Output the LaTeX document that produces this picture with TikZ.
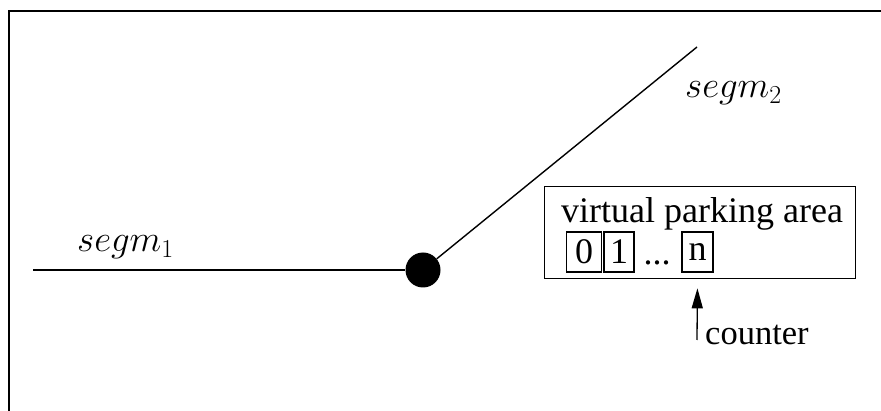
\documentclass[tikz,border=0pt]{standalone}
\usepackage{fix-cm}
\usepackage[no-math]{fontspec}
\setmainfont{Liberation Serif}
\usetikzlibrary{arrows.meta}
\tikzset{
  line/.style={line width=1.4pt},
  lbl/.style={inner sep=0pt, font=\fontsize{36}{42}\selectfont},
  mlbl/.style={inner sep=0pt, font=\fontsize{37}{44}\selectfont},
  slot/.style={draw, line width=1.1pt, inner sep=0pt, minimum height=40pt, font=\fontsize{36}{42}\selectfont},
  ptr/.style={line width=1.3pt, -{Triangle[length=20pt,width=11pt]}}
}
\begin{document}
\begin{tikzpicture}[x=1pt,y=-1pt]
\useasboundingbox (0,0) rectangle (881,411);
\begin{scope}
\clip (0,0) rectangle (881,411);
\draw[line width=1.6pt] (9,430) -- (9,11) -- (900,11);
\end{scope}
% junction and segments
\node[circle, fill=black, minimum size=35pt, inner sep=0pt] (dot) at (423,270) {};
\coordinate (s1end) at (33,270);
\coordinate (s2end) at (697,47);
\draw[line] (s1end) -- (dot);
\draw[line] (dot) -- (s2end);
\node[mlbl, anchor=base west] (seg1) at (77,252) {$segm_1$};
\node[mlbl, anchor=base west] (seg2) at (685,98) {$segm_2$};
% parking area
\node[draw, line width=1.3pt, minimum width=311pt, minimum height=92pt, anchor=north west, inner sep=0pt] (area) at (544,186) {};
\node[lbl, anchor=base west] (title) at (561,223) {virtual parking area};
\node[slot, minimum width=35pt] (b0) at (584,252) {0};
\node[slot, minimum width=30pt] (b1) at (619,252) {1};
\node[lbl, anchor=base] (dots) at (657,265) {...};
\node[slot, minimum width=31pt] (bn) at (697.5,252) {n};
% counter
\coordinate (tail) at (697,340);
\draw[ptr, shorten >=9pt] (tail) -- (bn.south |- area.south);
\node[lbl, anchor=base west, font=\fontsize{34.5}{40}\selectfont] (ctr) at (705,345) {counter};
\end{tikzpicture}
\end{document}
